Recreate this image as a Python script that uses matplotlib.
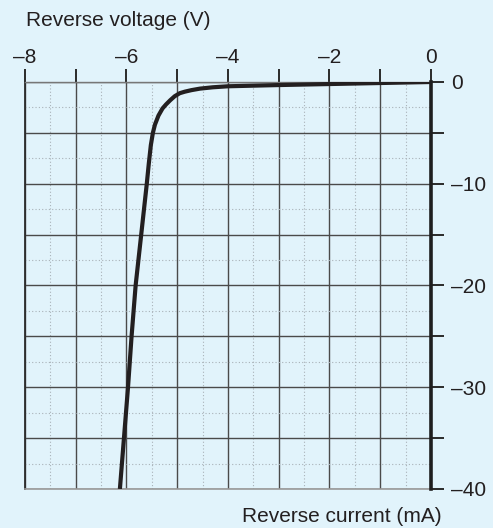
import matplotlib
matplotlib.use("Agg")
import matplotlib.pyplot as plt
from matplotlib.ticker import MultipleLocator

# Zener diode reverse characteristic
reverse_voltage = [0.0, -1.0, -2.0, -3.0, -4.0, -4.3, -4.55, -4.72, -4.85, -4.95,
                   -5.05, -5.14, -5.22, -5.29, -5.37, -5.44, -5.48, -5.52, -5.56, -5.6,
                   -5.71, -5.82, -5.9, -5.97, -6.05, -6.13]
reverse_current = [0.0, -0.1, -0.2, -0.3, -0.42, -0.52, -0.65, -0.8, -0.95, -1.1,
                   -1.4, -1.8, -2.2, -2.6, -3.3, -4.2, -5.0, -6.2, -8.0, -10.0,
                   -15.0, -20.0, -25.0, -30.0, -35.0, -40.0]

x_tick_labels = ["\u20138", "", "\u20136", "", "\u20134", "", "\u20132", "", "0"]
y_tick_labels = ["0", "", "\u201310", "", "\u201320", "", "\u201330", "", "\u201340"]

bg = "#e1f3fb"
plt.rcParams["font.family"] = ["Liberation Sans", "DejaVu Sans"]

fig = plt.figure(figsize=(4.93, 5.28), dpi=100, facecolor=bg)
ax = fig.add_axes([0.0507, 0.0739, 0.8235, 0.7708], facecolor=bg)

ax.set_xlim(-8, 0)
ax.set_ylim(-40, 0)

# grid: solid major lines, dotted minor lines
ax.xaxis.set_major_locator(MultipleLocator(1))
ax.yaxis.set_major_locator(MultipleLocator(5))
ax.xaxis.set_minor_locator(MultipleLocator(0.5))
ax.yaxis.set_minor_locator(MultipleLocator(2.5))
ax.grid(which="major", color="#4a4a4a", linewidth=1.0, linestyle="-")
ax.grid(which="minor", color="#a9b2b8", linewidth=0.8, linestyle=(0, (1, 2)))
ax.set_axisbelow(True)

ax.plot(reverse_voltage, reverse_current, color="#231f20", linewidth=3.0,
        solid_capstyle="butt", solid_joinstyle="round", zorder=5)

# spines
for side in ("left", "top", "right", "bottom"):
    ax.spines[side].set_visible(True)
ax.spines["left"].set_color("#2a2a2a")
ax.spines["left"].set_linewidth(1.3)
ax.spines["top"].set_color("#777777")
ax.spines["top"].set_linewidth(1.0)
ax.spines["bottom"].set_color("#999999")
ax.spines["bottom"].set_linewidth(1.2)
ax.spines["right"].set_color("#1e1e1e")
ax.spines["right"].set_linewidth(2.6)
ax.spines["right"].set_zorder(6)

# x axis on top
ax.xaxis.tick_top()
ax.tick_params(axis="x", which="major", direction="out", length=9.4, width=1.4,
               color="#2a2a2a", top=True, bottom=False, labelsize=15,
               labelcolor="#231f20", pad=1.5)
ax.tick_params(axis="x", which="minor", length=0, top=False, bottom=False)
ax.set_xticks([-8, -7, -6, -5, -4, -3, -2, -1, 0])
ax.set_xticklabels(x_tick_labels)

# y axis on right
ax.yaxis.tick_right()
ax.tick_params(axis="y", which="major", direction="out", length=9, width=1.4,
               color="#2a2a2a", right=True, left=False, labelsize=15,
               labelcolor="#231f20", pad=5.5)
ax.tick_params(axis="y", which="minor", length=0, right=False, left=False)
ax.set_yticks([0, -5, -10, -15, -20, -25, -30, -35, -40])
ax.set_yticklabels(y_tick_labels)

fig.text(26 / 493, 1 - 20 / 528, "Reverse voltage (V)", fontsize=15,
         color="#231f20", ha="left", va="center")
fig.text(442 / 493, 1 - 516 / 528, "Reverse current (mA)", fontsize=15,
         color="#231f20", ha="right", va="center")

fig.savefig("out.png", dpi=100, facecolor=bg)
